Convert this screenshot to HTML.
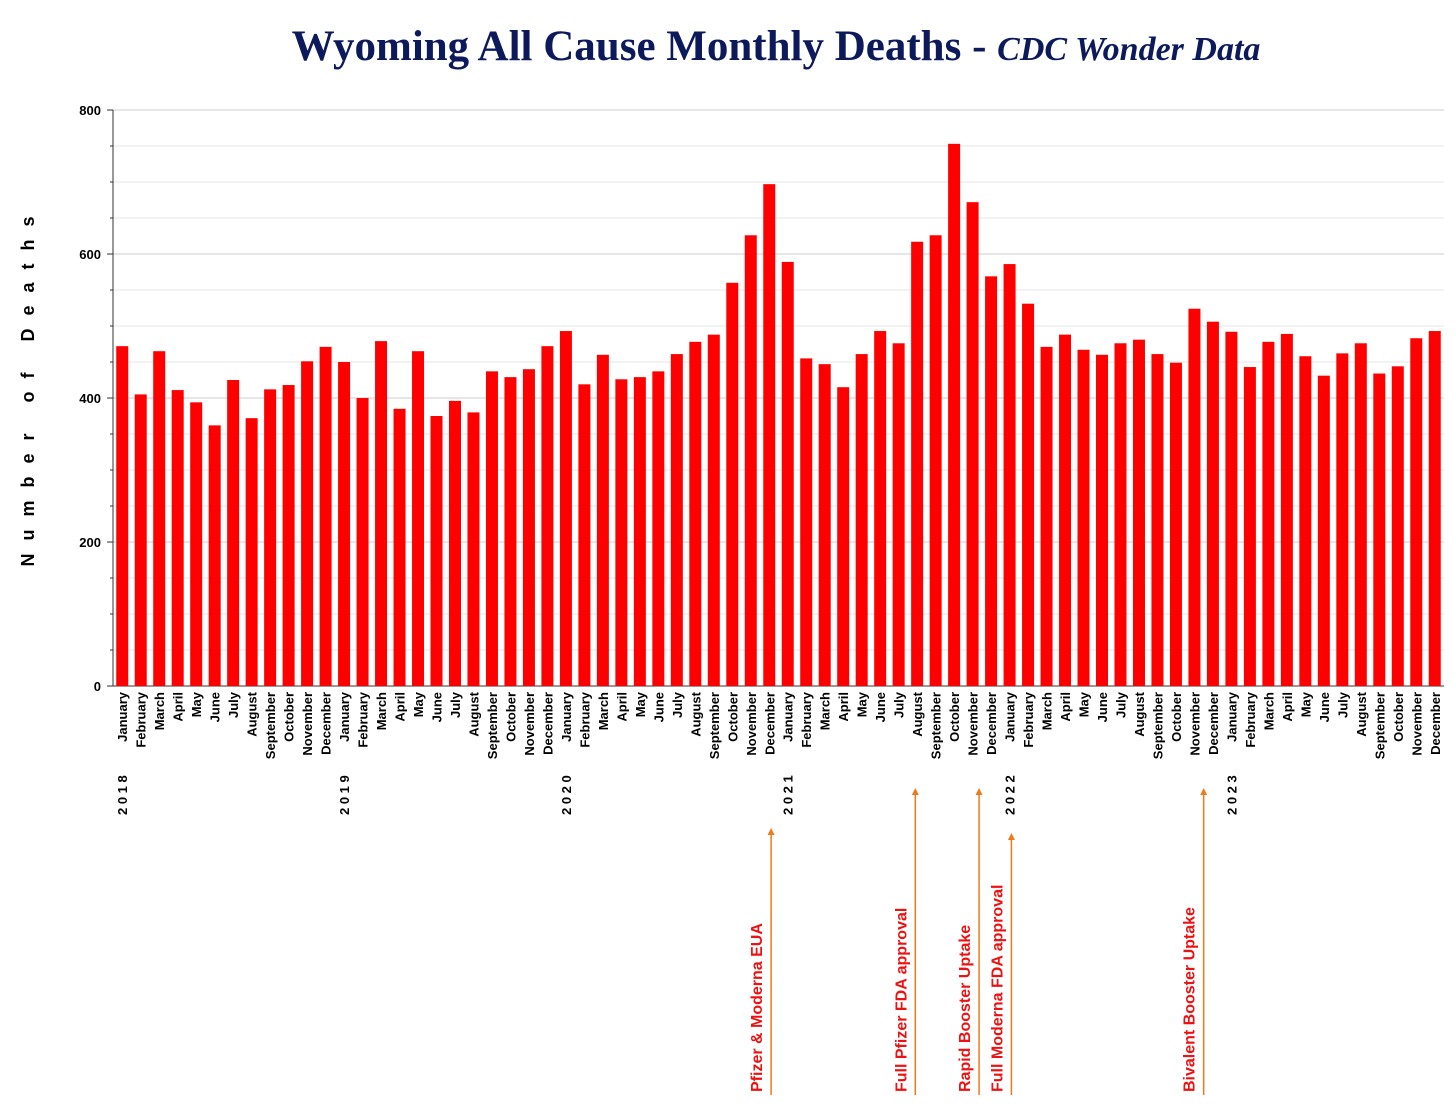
<!DOCTYPE html>
<html><head><meta charset="utf-8"><style>
body{margin:0;background:#fff;}
svg text{font-family:"Liberation Sans",Arial,sans-serif;white-space:pre;}
</style></head><body>
<svg id="c" width="1456" height="1110" xmlns="http://www.w3.org/2000/svg">
<text x="776" y="60" text-anchor="middle" fill="#0c1a5c" style="font-family:'Liberation Serif',serif;font-weight:bold;font-size:43px">Wyoming All Cause Monthly Deaths - <tspan font-style="italic" font-size="34">CDC Wonder Data</tspan></text>
<text transform="translate(34,385) rotate(-90)" text-anchor="middle" font-weight="bold" font-size="18" letter-spacing="13">Number of Deaths</text>
<g id="grid"></g><g id="bars"></g><g id="xl"></g><g id="ann"></g>
</svg>
<script>
const months=["January","February","March","April","May","June","July","August","September","October","November","December"];
const years=["2 0 1 8","2 0 1 9","2 0 2 0","2 0 2 1","2 0 2 2","2 0 2 3"];
const deaths=[472,405,465,411,394,362,425,372,412,418,451,471,
450,400,479,385,465,375,396,380,437,429,440,472,
493,419,460,426,429,437,461,478,488,560,626,697,
589,455,447,415,461,493,476,617,626,753,672,569,
586,531,471,488,467,460,476,481,461,449,524,506,
492,443,478,489,458,431,462,476,434,444,483,493];
const yTicks=[0,200,400,600,800];
const annLabels=["Pfizer & Moderna EUA","Full Pfizer FDA approval","Rapid Booster Uptake","Full Moderna FDA approval","Bivalent Booster Uptake"];
const annIndex=[35.1,42.9,46.35,48.1,58.5];
const annTop=[828,788,788,833,788];
const NS="http://www.w3.org/2000/svg";
const x0=113,x1=1444,y0=686,y1=110,n=deaths.length,slot=(x1-x0)/n;
const ys=v=>y0-(v/800)*(y0-y1);
const xs=i=>x0+slot*(i+0.5);
function mk(t,a,p){const e=document.createElementNS(NS,t);for(const k in a)e.setAttribute(k,a[k]);p.appendChild(e);return e;}
const g=document.getElementById('grid');
for(let v=0;v<=800;v+=50){
 const l=mk('line',{x1:x0,x2:x1,y1:ys(v),y2:ys(v),stroke:v%200==0?'#ccc':'#e6e6e6','stroke-width':1},g);
 
 const tk=mk('line',{x1:x0-(v%200==0?6:3),x2:x0,y1:ys(v),y2:ys(v),stroke:'#333'},g);
 
}
const ax=mk('line',{x1:x0,x2:x0,y1:y1,y2:y0,stroke:'#333'},g);

const bx=mk('line',{x1:x0,x2:x1,y1:y0,y2:y0,stroke:'#333'},g);

yTicks.forEach(v=>{const t=mk('text',{x:x0-12,y:ys(v)+5,'text-anchor':'end','font-weight':'bold','font-size':13},g);t.textContent=v;
 });
const b=document.getElementById('bars'),xl=document.getElementById('xl');
deaths.forEach((v,i)=>{
 const r=mk('rect',{x:xs(i)-6,y:ys(v),width:12,height:y0-ys(v),fill:'#ff0000'},b);
 
 const m=i%12;
 const t=mk('text',{transform:`translate(${xs(i)+5},692) rotate(-90)`,'text-anchor':'end','font-weight':'bold','font-size':13},xl);
 t.textContent=months[m];
 
 if(m==0){
  const y=mk('text',{transform:`translate(${xs(i)+5},815) rotate(-90)`,'font-weight':'bold','font-size':13},xl);
  y.textContent=years[i/12];
  
 }
});
const an=document.getElementById('ann');
annLabels.forEach((s,k)=>{
 const x=xs(annIndex[k]);
 const l=mk('line',{x1:x,x2:x,y1:1095,y2:annTop[k]+6,stroke:'#f07a1a','stroke-width':1.5},an);
 
 const p=mk('polygon',{points:`${x-3.5},${annTop[k]+7} ${x+3.5},${annTop[k]+7} ${x},${annTop[k]}`,fill:'#f07a1a'},an);
 
 const t=mk('text',{transform:`translate(${x-9},1092) rotate(-90)`,'font-weight':'bold','font-size':16,fill:'#ee1111'},an);
 t.textContent=s;
 
});
</script>
</body></html>
